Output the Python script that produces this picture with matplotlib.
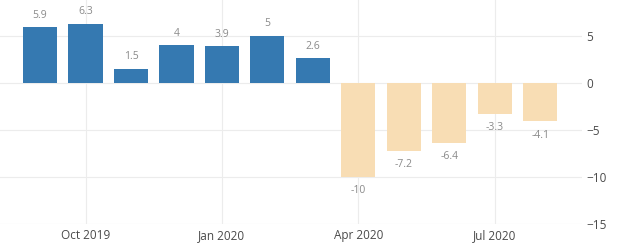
import numpy as np
from matplotlib import pyplot as plt

months = ['Sep 2019', 'Oct 2019', 'Nov 2019', 'Dec 2019', 'Jan 2020', 'Feb 2020',
          'Mar 2020', 'Apr 2020', 'May 2020', 'Jun 2020', 'Jul 2020', 'Aug 2020']
values = [5.9, 6.3, 1.5, 4, 3.9, 5, 2.6, -10, -7.2, -6.4, -3.3, -4.1]
labels = ['5.9', '6.3', '1.5', '4', '3.9', '5', '2.6', '-10', '-7.2', '-6.4', '-3.3', '-4.1']
tick_months = ['Oct 2019', 'Jan 2020', 'Apr 2020', 'Jul 2020']
yticks = [5, 0, -5, -10, -15]

plt.rcParams['font.family'] = ['Open Sans', 'DejaVu Sans']

fig = plt.figure(figsize=(6.2, 2.48), dpi=100)
ax = fig.add_axes([0, 0.097, 0.939, 0.903])

x = np.arange(len(values))
colors = ['#3579b1' if v >= 0 else '#f8ddb4' for v in values]
ax.bar(x, values, width=0.75, color=colors, zorder=2)

for xi, v, lab in zip(x, values, labels):
    if v >= 0:
        ax.text(xi, v + 0.7, lab, ha='center', va='bottom', fontsize=7.5, color='#8a8a8a')
    else:
        ax.text(xi, v - 0.9, lab, ha='center', va='top', fontsize=7.5, color='#8a8a8a')

ax.set_xlim(-0.88, 11.92)
ax.set_ylim(-15, 8.8)
ax.set_xticks([months.index(m) for m in tick_months])
ax.set_xticklabels(tick_months)
ax.set_yticks(yticks)
ax.yaxis.tick_right()
ax.grid(True, color='#ececec', linewidth=0.8, zorder=0)
ax.tick_params(length=0, labelsize=8.5, colors='#4a4a4a', pad=4)
ax.tick_params(axis='y', pad=3)
for s in ax.spines.values():
    s.set_visible(False)

fig.savefig('out.png', dpi=100)
